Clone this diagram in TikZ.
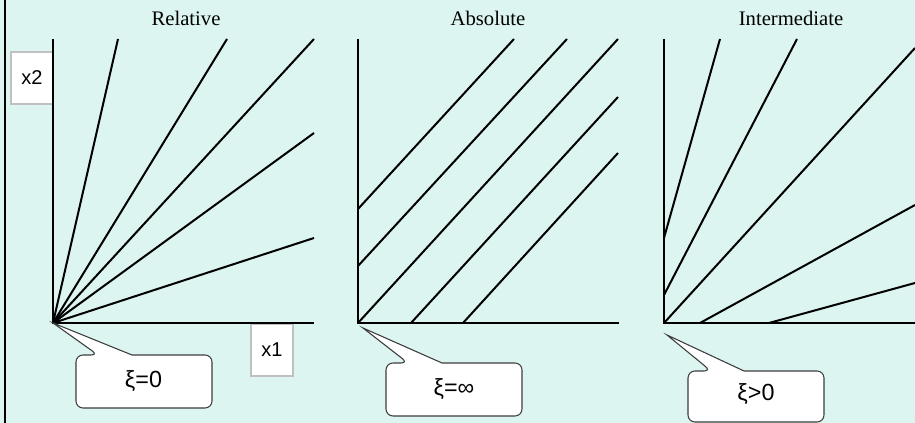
\documentclass[tikz,border=0pt]{standalone}
\usepackage{fontspec}
\setmainfont{Liberation Serif}
\newfontfamily\labelfont{Liberation Sans}
\definecolor{panelbg}{RGB}{220,245,240}
\definecolor{boxgray}{RGB}{192,192,192}
\definecolor{bubbleline}{RGB}{60,60,60}

\begin{document}
\begin{tikzpicture}[x=0.75pt,y=0.75pt,yscale=-1,xscale=1,
    axis/.style={line width=1.8},
    ray/.style={line width=1.5},
    paneltitle/.style={inner sep=0.75pt, font=\fontsize{15.5}{18}\selectfont},
    axisbox/.style={draw=boxgray, line width=1.6, fill=white, minimum width=31.5pt, minimum height=39pt, inner sep=0pt, font=\labelfont\fontsize{15}{17}\selectfont},
    bubble/.style={draw=bubbleline, line width=0.8, fill=white},
    bubbletext/.style={inner sep=0.75pt, font=\labelfont\fontsize{17.5}{20}\selectfont}]
    \useasboundingbox (0,0) rectangle (915,423);
    %Background
    \fill [panelbg] (0,0) rectangle (915,423);
    \draw [line width=1.8] (5,0) -- (5,423);

    %Origins
    \coordinate (o1) at (53,323);
    \coordinate (o2) at (358,323);
    \coordinate (o3) at (664,323);

    % Text Node
    \node [paneltitle] (relative) at (186,18) {Relative};
    % Text Node
    \node [paneltitle] (absolute) at (488,18) {Absolute};
    % Text Node
    \node [paneltitle] (intermediate) at (791,18) {Intermediate};

    %Relative: rays through the origin
    \foreach \ex/\ey in {118/39, 227/39, 314/39, 314/133, 314/238}
        \draw [ray] (o1) -- (\ex,\ey);

    %Absolute: parallel lines
    \draw [ray] (358,209) -- (514,39);
    \draw [ray] (358,266) -- (567,39);
    \draw [ray] (o2) -- (618,39);
    \draw [ray] (411,323) -- (618,97);
    \draw [ray] (463,323) -- (618,153);

    %Intermediate
    \draw [ray] (664,238) -- (720,39);
    \draw [ray] (664,295) -- (797,39);
    \draw [ray] (o3) -- (915,48);
    \draw [ray] (700,323) -- (915,205);
    \draw [ray] (769,323) -- (915,283);

    %Axis labels
    \node [axisbox] (xtwo) at (32,78) {x2};
    \node [axisbox] (xone) at (272,350) {x1};

    %Axes
    \draw [axis] (53,39) -- (o1) -- (314,323);
    \draw [axis] (358,39) -- (o2) -- (619,323);
    \draw [axis] (664,39) -- (o3) -- (915,323);

    %Callouts
    \draw [bubble] (132,355) [rounded corners=5.25pt] -- (212,355) -- (212,408) -- (76,408) -- (76,355) -- (98,355) [sharp corners] -- (o1) -- cycle;
    \node [bubbletext] (xizero) at (143.5,381) {ξ=0};

    \draw [bubble] (442,363) [rounded corners=5.25pt] -- (522,363) -- (522,416) -- (386,416) -- (386,363) -- (408,363) [sharp corners] -- (363,328) -- cycle;
    \node [bubbletext] (xiinf) at (454,389) {ξ=∞};

    \draw [bubble] (744,371) [rounded corners=5.25pt] -- (824,371) -- (824,422) -- (688,422) -- (688,371) -- (711,371) [sharp corners] -- (667,335) -- cycle;
    \node [bubbletext] (xipos) at (756,394) {ξ>0};
\end{tikzpicture}
\end{document}
